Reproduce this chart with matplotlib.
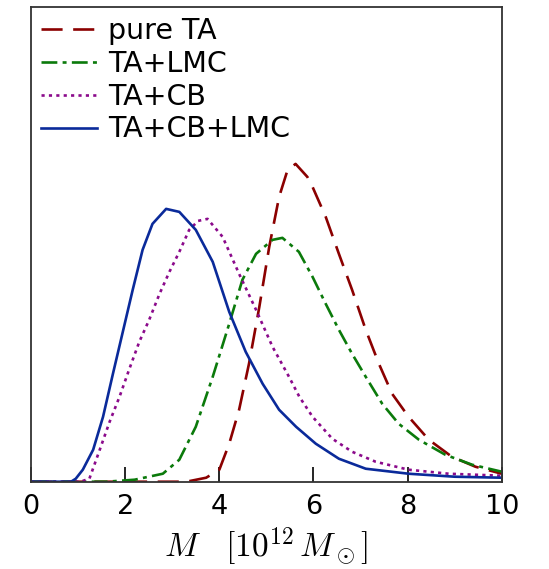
import matplotlib
matplotlib.use("Agg")
import matplotlib.pyplot as plt

plt.rcParams["mathtext.fontset"] = "cm"

# mass in 10^12 Msun, posterior density in arbitrary units
m_ta = [0, 3.3, 3.72, 4.0, 4.21, 4.42, 4.63, 4.85, 5.06, 5.27, 5.45, 5.62,
        5.87, 5.98, 6.26, 6.54, 6.82, 7.11, 7.39, 7.67, 8.02, 8.45, 8.94,
        9.44, 10]
p_ta = [0, 0, 4, 12, 38, 72, 118, 175, 235, 285, 312, 318,
        305, 295, 265, 228, 192, 152, 118, 88, 65, 42, 25,
        15, 8]

m_ta_lmc = [0, 1.6, 2.2, 2.8, 3.15, 3.5, 3.86, 4.21, 4.49, 4.78, 5.13, 5.34,
            5.69, 5.98, 6.26, 6.54, 6.82, 7.11, 7.46, 7.81, 8.24, 8.8, 9.37,
            10]
p_ta_lmc = [0, 0, 2, 8, 22, 55, 105, 158, 202, 228, 242, 244,
            230, 205, 178, 152, 128, 105, 78, 58, 42, 27, 17,
            10]

m_ta_cb = [0, 1.05, 1.24, 1.46, 1.67, 1.88, 2.09, 2.3, 2.51, 2.73, 2.94, 3.15,
           3.36, 3.55, 3.75, 4.07, 4.42, 4.78, 5.13, 5.48, 5.7, 5.98, 6.4,
           6.82, 7.32, 8.02, 8.87, 10]
p_ta_cb = [0, 0, 3, 32, 60, 85, 113, 140, 162, 188, 210, 230,
           252, 261, 263, 245, 208, 172, 135, 105, 85, 65, 43,
           30, 20, 12, 8, 6]

m_all = [0, 0.85, 0.95, 1.1, 1.32, 1.53, 1.74, 1.95, 2.16, 2.37, 2.58, 2.87,
         3.15, 3.5, 3.86, 4.21, 4.56, 4.92, 5.27, 5.63, 6.05, 6.54, 7.11,
         8.02, 9.0, 10]
p_all = [0, 0, 3, 12, 32, 65, 108, 150, 192, 232, 258, 273,
         270, 252, 220, 170, 130, 98, 72, 55, 38, 23, 13,
         8, 5, 4]

labels = ["pure TA", "TA+LMC", "TA+CB", "TA+CB+LMC"]

fig = plt.figure(figsize=(5.49, 5.69), dpi=100)
ax = fig.add_axes([0.0565, 0.1534, 0.8575, 0.8343])

lw = 1.9
ax.plot(m_ta, p_ta, color="#8b0000", lw=lw, dashes=(8, 4), label=labels[0])
ax.plot(m_ta_lmc, p_ta_lmc, color="#0b7a0b", lw=lw, dashes=(6, 2, 1.5, 2),
        label=labels[1])
ax.plot(m_ta_cb, p_ta_cb, color="#8b0a8b", lw=lw, dashes=(1.2, 1.6),
        label=labels[2])
ax.plot(m_all, p_all, color="#0a2a9a", lw=lw, label=labels[3])

ax.set_xlim(0, 10)
ax.set_ylim(0, 475)
ax.set_xticks([0, 2, 4, 6, 8, 10])
ax.set_yticks([])
ax.tick_params(axis="x", direction="in", length=11, width=1.2,
               labelsize=19.5, pad=9)
ax.set_xlabel(r"$M\ \ \ [10^{12}\,M_\odot]$", fontsize=24, labelpad=4)

for s in ax.spines.values():
    s.set_linewidth(1.3)
    s.set_color("#333333")

ax.legend(loc="upper left", frameon=False, fontsize=20.5, handlelength=1.95,
          handletextpad=0.4, labelspacing=0.17, borderaxespad=0.15,
          borderpad=0.2)

fig.savefig("out.png", dpi=100)
